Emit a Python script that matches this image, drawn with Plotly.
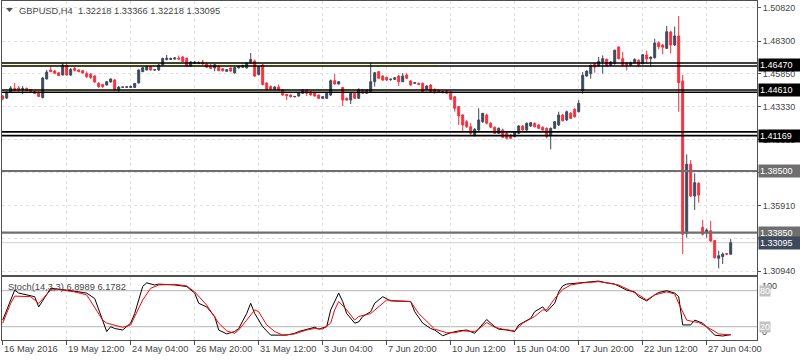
import plotly.graph_objects as go

# ---------------- data ----------------
symbol_title = "GBPUSD,H4  1.32218 1.33366 1.32218 1.33095"
stoch_title = "Stoch(14,3,3) 6.8989 6.1782"

bars = list(range(183))

open_ = [1.4415, 1.4400, 1.4446, 1.4472, 1.4476, 1.4461, 1.4472, 1.4464, 1.4449, 1.4442,
         1.4404, 1.4544, 1.4612, 1.4604, 1.4591, 1.4574, 1.4645, 1.4574, 1.4623, 1.4612,
         1.4606, 1.4585, 1.4581, 1.4566, 1.4511, 1.4502, 1.4498, 1.4521, 1.4536, 1.4461,
         1.4480, 1.4481, 1.4480, 1.4480, 1.4514, 1.4599, 1.4612, 1.4638, 1.4612, 1.4612,
         1.4649, 1.4691, 1.4691, 1.4694, 1.4702, 1.4710, 1.4700, 1.4642, 1.4660, 1.4660,
         1.4672, 1.4657, 1.4642, 1.4627, 1.4639, 1.4621, 1.4602, 1.4627, 1.4589, 1.4627,
         1.4632, 1.4627, 1.4664, 1.4679, 1.4578, 1.4649, 1.4514, 1.4487, 1.4464, 1.4483,
         1.4464, 1.4428, 1.4423, 1.4409, 1.4415, 1.4436, 1.4461, 1.4448, 1.4440, 1.4423,
         1.4398, 1.4398, 1.4423, 1.4531, 1.4506, 1.4480, 1.4398, 1.4385, 1.4436, 1.4398,
         1.4461, 1.4436, 1.4448, 1.4523, 1.4599, 1.4566, 1.4556, 1.4540, 1.4541, 1.4566,
         1.4523, 1.4574, 1.4529, 1.4511, 1.4511, 1.4511, 1.4466, 1.4498, 1.4466, 1.4457,
         1.4440, 1.4453, 1.4448, 1.4410, 1.4335, 1.4272, 1.4222, 1.4184, 1.4121, 1.4159,
         1.4222, 1.4272, 1.4210, 1.4180, 1.4134, 1.4159, 1.4134, 1.4121, 1.4109, 1.4134,
         1.4189, 1.4159, 1.4189, 1.4210, 1.4197, 1.4180, 1.4172, 1.4121, 1.4172, 1.4197,
         1.4272, 1.4235, 1.4285, 1.4315, 1.4297, 1.4458, 1.4566, 1.4584, 1.4659, 1.4642,
         1.4672, 1.4692, 1.4647, 1.4659, 1.4785, 1.4697, 1.4667, 1.4647, 1.4667, 1.4685,
         1.4659, 1.4725, 1.4697, 1.4704, 1.4817, 1.4800, 1.4775, 1.4898, 1.4800, 1.4868,
         1.4529, 1.3380, 1.3901, 1.3661, 1.3757, 1.3425, 1.3385, 1.3400, 1.3325, 1.3192,
         1.3205, 1.3228, 1.32218]

high_ = [1.4423, 1.4453, 1.4491, 1.4514, 1.4491, 1.4491, 1.4480, 1.4468, 1.4457, 1.4453,
         1.4559, 1.4612, 1.4636, 1.4612, 1.4596, 1.4661, 1.4661, 1.4627, 1.4636, 1.4615,
         1.4612, 1.4600, 1.4589, 1.4574, 1.4521, 1.4506, 1.4529, 1.4548, 1.4544, 1.4491,
         1.4487, 1.4489, 1.4495, 1.4514, 1.4615, 1.4634, 1.4645, 1.4642, 1.4619, 1.4657,
         1.4706, 1.4725, 1.4706, 1.4710, 1.4721, 1.4717, 1.4706, 1.4679, 1.4679, 1.4676,
         1.4689, 1.4672, 1.4657, 1.4657, 1.4645, 1.4627, 1.4619, 1.4630, 1.4634, 1.4642,
         1.4649, 1.4672, 1.4740, 1.4691, 1.4642, 1.4657, 1.4517, 1.4495, 1.4491, 1.4502,
         1.4468, 1.4430, 1.4427, 1.4415, 1.4446, 1.4468, 1.4464, 1.4453, 1.4446, 1.4427,
         1.4415, 1.4442, 1.4540, 1.4581, 1.4529, 1.4483, 1.4404, 1.4442, 1.4442, 1.4472,
         1.4468, 1.4464, 1.4662, 1.4596, 1.4604, 1.4574, 1.4562, 1.4547, 1.4559, 1.4574,
         1.4589, 1.4587, 1.4536, 1.4521, 1.4517, 1.4517, 1.4498, 1.4506, 1.4472, 1.4464,
         1.4453, 1.4461, 1.4453, 1.4415, 1.4340, 1.4280, 1.4235, 1.4212, 1.4174, 1.4323,
         1.4287, 1.4283, 1.4219, 1.4186, 1.4178, 1.4170, 1.4144, 1.4129, 1.4152, 1.4197,
         1.4197, 1.4216, 1.4219, 1.4214, 1.4204, 1.4186, 1.4178, 1.4178, 1.4227, 1.4297,
         1.4280, 1.4306, 1.4295, 1.4325, 1.4385, 1.4596, 1.4608, 1.4653, 1.4664, 1.4710,
         1.4722, 1.4698, 1.4679, 1.4766, 1.4790, 1.4747, 1.4672, 1.4676, 1.4698, 1.4691,
         1.4732, 1.4757, 1.4713, 1.4847, 1.4826, 1.4808, 1.4943, 1.4909, 1.4938, 1.5019,
         1.4574, 1.3976, 1.3933, 1.3833, 1.3765, 1.3480, 1.3418, 1.3475, 1.3330, 1.3249,
         1.3235, 1.3232, 1.33366]

low_ = [1.4385, 1.4393, 1.4438, 1.4453, 1.4446, 1.4431, 1.4449, 1.4446, 1.4431, 1.4408,
        1.4397, 1.4540, 1.4596, 1.4581, 1.4566, 1.4570, 1.4570, 1.4566, 1.4600, 1.4596,
        1.4585, 1.4551, 1.4544, 1.4514, 1.4476, 1.4476, 1.4495, 1.4517, 1.4457, 1.4438,
        1.4476, 1.4476, 1.4476, 1.4476, 1.4510, 1.4596, 1.4608, 1.4608, 1.4604, 1.4604,
        1.4645, 1.4683, 1.4687, 1.4691, 1.4691, 1.4672, 1.4638, 1.4634, 1.4657, 1.4657,
        1.4653, 1.4627, 1.4619, 1.4602, 1.4604, 1.4600, 1.4596, 1.4596, 1.4585, 1.4623,
        1.4627, 1.4623, 1.4660, 1.4559, 1.4570, 1.4495, 1.4457, 1.4461, 1.4461, 1.4453,
        1.4415, 1.4385, 1.4404, 1.4408, 1.4412, 1.4432, 1.4415, 1.4419, 1.4412, 1.4394,
        1.4393, 1.4393, 1.4415, 1.4502, 1.4502, 1.4340, 1.4378, 1.4355, 1.4393, 1.4393,
        1.4431, 1.4431, 1.4442, 1.4486, 1.4544, 1.4529, 1.4529, 1.4529, 1.4536, 1.4491,
        1.4521, 1.4544, 1.4495, 1.4506, 1.4498, 1.4442, 1.4461, 1.4446, 1.4434, 1.4438,
        1.4437, 1.4431, 1.4385, 1.4297, 1.4197, 1.4146, 1.4174, 1.4121, 1.4109, 1.4152,
        1.4212, 1.4201, 1.4174, 1.4129, 1.4129, 1.4099, 1.4088, 1.4091, 1.4103, 1.4129,
        1.4155, 1.4152, 1.4182, 1.4178, 1.4167, 1.4148, 1.4097, 1.4014, 1.4167, 1.4189,
        1.4223, 1.4227, 1.4242, 1.4253, 1.4291, 1.4433, 1.4561, 1.4546, 1.4591, 1.4638,
        1.4584, 1.4638, 1.4642, 1.4653, 1.4691, 1.4634, 1.4609, 1.4642, 1.4660, 1.4634,
        1.4653, 1.4657, 1.4634, 1.4698, 1.4768, 1.4730, 1.4770, 1.4737, 1.4792, 1.4297,
        1.3224, 1.3347, 1.3654, 1.3556, 1.3611, 1.3364, 1.3347, 1.3315, 1.3190, 1.3116,
        1.3149, 1.3215, 1.32218]

close_ = [1.4393, 1.4442, 1.4476, 1.4457, 1.4461, 1.4472, 1.4457, 1.4449, 1.4434, 1.4412,
          1.4551, 1.4596, 1.4599, 1.4587, 1.4569, 1.4649, 1.4574, 1.4615, 1.4608, 1.4599,
          1.4589, 1.4562, 1.4555, 1.4521, 1.4487, 1.4487, 1.4523, 1.4544, 1.4461, 1.4483,
          1.4483, 1.4485, 1.4487, 1.4510, 1.4612, 1.4629, 1.4636, 1.4612, 1.4614, 1.4649,
          1.4698, 1.4700, 1.4698, 1.4702, 1.4694, 1.4676, 1.4642, 1.4672, 1.4672, 1.4669,
          1.4657, 1.4632, 1.4623, 1.4651, 1.4606, 1.4606, 1.4614, 1.4604, 1.4630, 1.4638,
          1.4647, 1.4664, 1.4691, 1.4566, 1.4638, 1.4502, 1.4464, 1.4464, 1.4483, 1.4461,
          1.4423, 1.4418, 1.4410, 1.4412, 1.4440, 1.4461, 1.4436, 1.4423, 1.4415, 1.4398,
          1.4410, 1.4436, 1.4531, 1.4506, 1.4523, 1.4385, 1.4385, 1.4436, 1.4398, 1.4466,
          1.4436, 1.4461, 1.4523, 1.4591, 1.4549, 1.4536, 1.4536, 1.4542, 1.4553, 1.4523,
          1.4566, 1.4549, 1.4498, 1.4516, 1.4504, 1.4448, 1.4491, 1.4448, 1.4440, 1.4446,
          1.4449, 1.4436, 1.4391, 1.4323, 1.4265, 1.4197, 1.4184, 1.4134, 1.4164, 1.4235,
          1.4285, 1.4210, 1.4180, 1.4134, 1.4172, 1.4104, 1.4097, 1.4097, 1.4146, 1.4189,
          1.4159, 1.4210, 1.4214, 1.4184, 1.4172, 1.4159, 1.4109, 1.4172, 1.4222, 1.4272,
          1.4229, 1.4297, 1.4247, 1.4259, 1.4360, 1.4572, 1.4604, 1.4647, 1.4634, 1.4677,
          1.4697, 1.4642, 1.4672, 1.4760, 1.4697, 1.4651, 1.4647, 1.4667, 1.4692, 1.4647,
          1.4727, 1.4694, 1.4709, 1.4815, 1.4787, 1.4783, 1.4900, 1.4800, 1.4868, 1.4516,
          1.3373, 1.3901, 1.3661, 1.3762, 1.3669, 1.3373, 1.3405, 1.3322, 1.3196, 1.3211,
          1.3224, 1.3222, 1.33095]

# Stochastic %K (black) and %D (red), sampled at bar indices
k_bars = [0, 3, 4, 8, 9, 12, 16, 20, 21, 23, 24, 26, 27, 28, 30, 32, 33, 35, 36, 38,
          39, 43, 46, 48, 49, 51, 53, 54, 56, 58, 59, 61, 62, 63, 65, 67, 71, 73, 74, 76,
          78, 79, 81, 82, 83, 84, 85, 86, 88, 89, 90, 92, 93, 95, 97, 99, 102, 103, 105, 107,
          108, 110, 112, 114, 116, 118, 119, 121, 123, 124, 126, 128, 129, 131, 132, 133, 135, 136, 138, 139,
          140, 141, 143, 145, 147, 149, 151, 153, 156, 158, 159, 161, 163, 164, 166, 168, 169, 170, 172, 173,
          175, 177, 178, 180, 182]
k_vals = [31, 81, 76, 70, 53, 84, 81, 78, 76, 67, 48, 12, 20, 17, 14.5, 26, 42, 87, 93, 89.5,
          91, 89.5, 87, 76, 59, 53, 37, 14.5, 8, 12, 17, 42, 59, 42, 20, 6, 6, 9, 12, 16,
          19, 16, 20, 48, 62, 76, 62, 42, 26, 28, 37, 45, 59, 70, 63, 62.5, 62, 45, 26, 17,
          14.5, 5, 10, 13, 14.5, 9, 17, 32, 20, 16, 14.5, 12, 23, 31, 34, 45, 53, 45, 59, 78,
          88, 91, 92, 93, 95, 96, 93, 91, 81, 78, 70, 63, 73, 77, 80, 76, 70, 23, 23, 31,
          26, 12, 6, 4.5, 6.8989]

d_bars = [0, 2, 3, 7, 9, 12, 14, 18, 21, 23, 25, 26, 28, 30, 32, 33, 35, 37, 39, 43,
          46, 48, 51, 54, 56, 58, 59, 61, 63, 64, 66, 68, 70, 73, 76, 78, 80, 82, 83, 84,
          86, 88, 89, 92, 94, 96, 99, 102, 104, 107, 108, 111, 113, 115, 118, 119, 121, 123, 125, 128,
          130, 133, 135, 136, 138, 140, 142, 145, 149, 152, 154, 157, 159, 161, 163, 166, 168, 169, 171, 173,
          174, 176, 178, 179, 182]
d_vals = [26, 59, 71, 70, 59, 81, 82, 78, 73, 53, 31, 26, 23, 19, 23, 37, 64.5, 84, 89.5, 90.6,
          88, 78, 56, 26, 13, 9, 14.5, 31, 48, 45, 23, 12, 6, 8, 14.5, 17, 16, 26, 48, 62,
          48, 31, 37, 42, 53, 64.5, 63, 62, 42, 23, 16, 10, 10, 13, 12, 16, 27, 19, 16, 13,
          26, 37, 48, 48, 67, 82, 89.5, 93, 95, 92, 89.5, 80, 73, 64.5, 73, 78, 74.5, 59, 31, 28,
          27, 20, 12, 8, 6.1782]

tick_bars = [0, 16, 32, 48, 64, 80, 96, 112, 128, 144, 160, 176]
tick_labels = ["16 May 2016", "19 May 12:00", "24 May 04:00", "26 May 20:00", "31 May 12:00",
               "3 Jun 04:00", "7 Jun 20:00", "10 Jun 12:00", "15 Jun 04:00", "17 Jun 20:00",
               "22 Jun 12:00", "27 Jun 04:00"]

price_ticks = [1.50820, 1.48300, 1.45850, 1.43330, 1.40880, 1.38360, 1.35910, 1.33390, 1.30940]
price_tick_text = ["1.50820", "1.48300", "1.45850", "1.43330", "1.40880", "1.38360", "1.35910", "", "1.30940"]

black_lines = [1.4664, 1.4642, 1.4461, 1.4444, 1.4145, 1.4117]
yellow_bands = [(1.4642, 1.4664), (1.4444, 1.4461)]
yellow_end_bar = 108.8
gray_lines = [1.3850, 1.3385]
current_price = 1.33095

box_prices = [1.46470, 1.44610, 1.41169, 1.38500, 1.33850, 1.33095]
box_texts = ["1.46470", "1.44610", "1.41169", "1.38500", "1.33850", "1.33095"]
box_colors = ["#000000", "#000000", "#000000", "#6f6f6f", "#6f6f6f", "#3e4a5b"]

stoch_levels = [80, 20]

# ---------------- styling / geometry ----------------
W, H = 800, 360
UP = "#3e4a5b"
DN = "#f2323f"
FRAME = "#505050"
TXT = "#454545"
FONT = "Liberation Sans"
LBL = 9.3


def fx(p):
    return p / W


def fy(p):
    return 1 - p / H


x_dom = [fx(2), fx(757)]
main_dom = [fy(275), fy(1)]
stoch_dom = [fy(339.5), fy(277)]
x_rng = [-0.175, 188.575]
price_rng = [1.30658, 1.51318]
stoch_rng = [-1.3, 102.8]

fig = go.Figure()

fig.add_trace(go.Candlestick(
    x=bars, open=open_, high=high_, low=low_, close=close_,
    increasing=dict(line=dict(color=UP, width=1), fillcolor=UP),
    decreasing=dict(line=dict(color=DN, width=1), fillcolor=DN),
    whiskerwidth=0, hoverinfo="skip", showlegend=False,
    xaxis="x", yaxis="y"))

fig.add_trace(go.Scatter(x=k_bars, y=k_vals, mode="lines",
                         line=dict(color="#000000", width=1),
                         hoverinfo="skip", showlegend=False, xaxis="x2", yaxis="y2"))
fig.add_trace(go.Scatter(x=d_bars, y=d_vals, mode="lines",
                         line=dict(color="#ff0000", width=1),
                         hoverinfo="skip", showlegend=False, xaxis="x2", yaxis="y2"))

shapes = []
for lo, hi in yellow_bands:
    shapes.append(dict(type="rect", xref="x", yref="y", x0=x_rng[0], x1=yellow_end_bar,
                       y0=lo, y1=hi, fillcolor="#ffffc4", line=dict(width=0), layer="below"))
shapes.append(dict(type="line", xref="x domain", yref="y", x0=0, x1=1,
                   y0=current_price, y1=current_price,
                   line=dict(color="#cfcfcf", width=1), layer="below"))
for p in black_lines:
    shapes.append(dict(type="line", xref="x domain", yref="y", x0=0, x1=1, y0=p, y1=p,
                       line=dict(color="#000000", width=1.6), layer="above"))
for p in gray_lines:
    shapes.append(dict(type="line", xref="x domain", yref="y", x0=0, x1=1, y0=p, y1=p,
                       line=dict(color="#6f6f6f", width=2.2), layer="above"))
for v in stoch_levels:
    shapes.append(dict(type="line", xref="x2 domain", yref="y2", x0=0, x1=1, y0=v, y1=v,
                       line=dict(color="#b4b4b4", width=1), layer="below"))
# small down-triangle before the symbol title
shapes.append(dict(type="path", xref="paper", yref="paper",
                   path=f"M {fx(6)} {fy(8)} L {fx(13)} {fy(8)} L {fx(9.5)} {fy(12)} Z",
                   fillcolor="#505050", line=dict(width=0)))

annotations = []
annotations.append(dict(xref="paper", yref="paper", x=fx(17), y=fy(10.5), text=symbol_title,
                        showarrow=False, xanchor="left", yanchor="middle",
                        font=dict(family=FONT, size=LBL, color=TXT)))
annotations.append(dict(xref="paper", yref="paper", x=fx(6), y=fy(287), text=stoch_title,
                        showarrow=False, xanchor="left", yanchor="middle",
                        font=dict(family=FONT, size=LBL, color=TXT)))
for p, t, c in zip(box_prices, box_texts, box_colors):
    annotations.append(dict(xref="paper", yref="y", x=fx(758), y=p, text=t, showarrow=False,
                            xanchor="left", yanchor="middle", align="left", width=40, height=10,
                            bgcolor=c, borderpad=1,
                            font=dict(family=FONT, size=9, color="#ffffff")))
for b, t in zip(tick_bars, tick_labels):
    annotations.append(dict(xref="x2", yref="paper", x=b, y=fy(349), text=t, showarrow=False,
                            xanchor="left", yanchor="middle", xshift=-1,
                            font=dict(family=FONT, size=LBL, color=TXT)))
annotations.append(dict(xref="paper", yref="y2", x=fx(760), y=100, text="100", showarrow=False,
                        xanchor="left", yanchor="top", font=dict(family=FONT, size=9, color=TXT)))
annotations.append(dict(xref="paper", yref="y2", x=fx(760), y=0, text="0", showarrow=False,
                        xanchor="left", yanchor="bottom", font=dict(family=FONT, size=9, color=TXT)))
for v in stoch_levels:
    annotations.append(dict(xref="paper", yref="y2", x=fx(759), y=v, text=str(v), showarrow=False,
                            xanchor="left", yanchor="middle", bgcolor="#c2c2c2", borderpad=0,
                            font=dict(family=FONT, size=9, color="#ffffff")))

grid = dict(showgrid=True, gridcolor="#e2e2e2", griddash="3px,3px", gridwidth=1)

fig.update_layout(
    width=W, height=H, margin=dict(l=0, r=0, t=0, b=0),
    paper_bgcolor="#ffffff", plot_bgcolor="#ffffff",
    font=dict(family=FONT, size=9, color=TXT),
    showlegend=False, shapes=shapes, annotations=annotations,
    xaxis=dict(domain=x_dom, range=x_rng, anchor="y", tickmode="array", tickvals=tick_bars,
               showticklabels=False, ticks="", zeroline=False,
               showline=True, mirror=True, linecolor=FRAME, linewidth=1,
               rangeslider=dict(visible=False), fixedrange=True, **grid),
    yaxis=dict(domain=main_dom, range=price_rng, anchor="x", side="right",
               tickmode="array", tickvals=price_ticks, ticktext=price_tick_text,
               ticks="outside", ticklen=3, tickcolor=FRAME,
               tickfont=dict(family=FONT, size=9, color=TXT),
               zeroline=False, showline=True, mirror=True, linecolor=FRAME, linewidth=1,
               fixedrange=True, **grid),
    xaxis2=dict(domain=x_dom, range=x_rng, anchor="y2", matches="x", tickmode="array",
                tickvals=tick_bars, showticklabels=False, ticks="outside", ticklen=4,
                tickcolor=FRAME, zeroline=False,
                showline=True, mirror=True, linecolor=FRAME, linewidth=1,
                rangeslider=dict(visible=False), fixedrange=True, **grid),
    yaxis2=dict(domain=stoch_dom, range=stoch_rng, anchor="x2", side="right",
                showticklabels=False, ticks="", showgrid=False, zeroline=False,
                showline=True, mirror=True, linecolor=FRAME, linewidth=1, fixedrange=True),
)

fig.write_html("out.html", config=dict(displayModeBar=False, staticPlot=True),
               post_script="document.body.style.margin='0';document.body.style.overflow='hidden';")
